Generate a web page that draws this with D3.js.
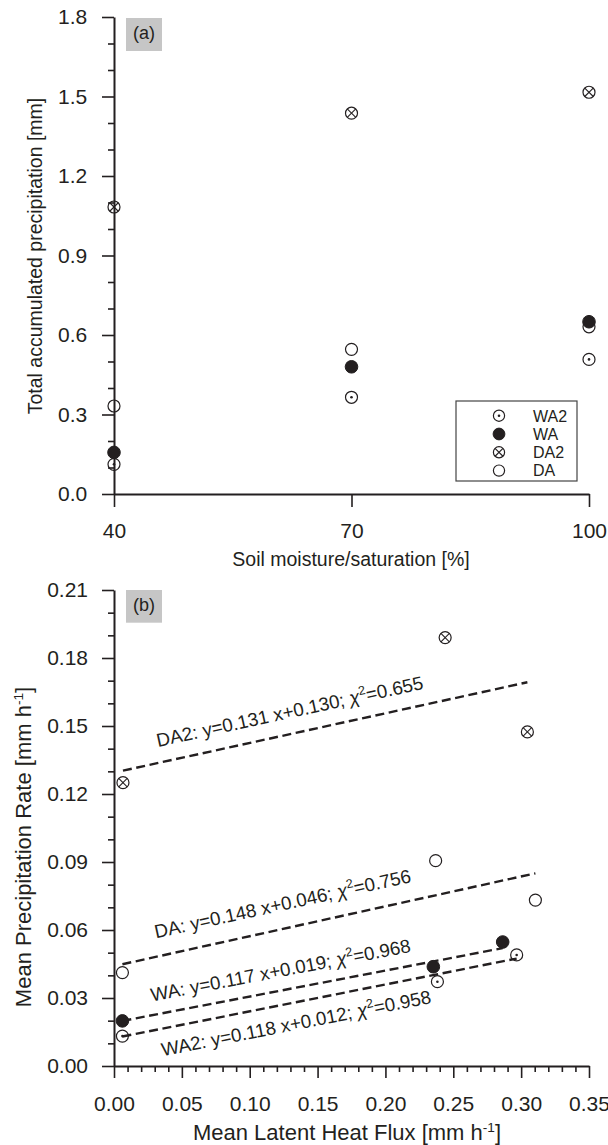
<!DOCTYPE html>
<html>
<head>
<meta charset="utf-8">
<script src="https://cdn.jsdelivr.net/npm/d3@7"></script>
<style>
    body { margin: 0; background: #fff; }
    svg text { font-family: "Liberation Sans", Arial, Helvetica, sans-serif; fill: #231f20; }
</style>
</head>
<body>
<div id="chart"></div>
<script>
// ---- panel (a): total accumulated precipitation vs soil moisture
var soilMoisture = [40, 70, 100];
var accWA2 = [0.112, 0.365, 0.508];
var accWA = [0.157, 0.480, 0.650];
var accDA2 = [1.083, 1.437, 1.516];
var accDA = [0.332, 0.546, 0.631];
var aXTicks = [40, 70, 100];
var aYTicks = [0.0, 0.3, 0.6, 0.9, 1.2, 1.5, 1.8];

// ---- panel (b): mean precipitation rate vs mean latent heat flux
var lhfDA2 = [0.0066, 0.244, 0.3046];
var rateDA2 = [0.125, 0.189, 0.1474];
var lhfDA = [0.0062, 0.237, 0.3105];
var rateDA = [0.0412, 0.0906, 0.0732];
var lhfWA = [0.0062, 0.2353, 0.2864];
var rateWA = [0.0199, 0.0438, 0.0547];
var lhfWA2 = [0.0062, 0.2383, 0.2967];
var rateWA2 = [0.0132, 0.0372, 0.0490];
var bXTicks = [0.00, 0.05, 0.10, 0.15, 0.20, 0.25, 0.30, 0.35];
var bYTicks = [0.00, 0.03, 0.06, 0.09, 0.12, 0.15, 0.18, 0.21];

// regression lines (ends) and their labels
var fitNames = ["DA2", "DA", "WA", "WA2"];
var fitStartX = [0.0066, 0.0062, 0.0062, 0.0062];
var fitStartY = [0.1303, 0.0449, 0.0199, 0.0130];
var fitEndX = [0.3046, 0.3105, 0.2864, 0.2967];
var fitEndY = [0.1693, 0.0850, 0.0520, 0.0474];
var fitEq = ["y=0.131 x+0.130", "y=0.148 x+0.046", "y=0.117 x+0.019", "y=0.118 x+0.012"];
var fitChi = ["0.655", "0.756", "0.968", "0.958"];

var legendNames = ["WA2", "WA", "DA2", "DA"];

var ink = "#231f20";

var svg = d3.select("#chart")
    .append("svg")
    .attr("width", 608)
    .attr("height", 1145);

// marker drawing: kind is one of WA2, WA, DA2, DA
function marker(g, kind, cx, cy, r) {
    var m = g.append("g").attr("transform", "translate(" + cx + "," + cy + ")");
    if (kind == "WA") {
        m.append("circle").attr("r", r + 0.3).attr("fill", ink).attr("stroke", ink).attr("stroke-width", 1);
        return;
    }
    m.append("circle").attr("r", r).attr("fill", "none").attr("stroke", ink).attr("stroke-width", 1.2);
    if (kind == "WA2") {
        m.append("circle").attr("r", 1.3).attr("fill", ink);
    }
    if (kind == "DA2") {
        var k = r * 0.707;
        m.append("line").attr("x1", -k).attr("y1", -k).attr("x2", k).attr("y2", k)
            .attr("stroke", ink).attr("stroke-width", 1.1);
        m.append("line").attr("x1", -k).attr("y1", k).attr("x2", k).attr("y2", -k)
            .attr("stroke", ink).attr("stroke-width", 1.1);
    }
}

function styleAxis(g, fontSize) {
    g.attr("font-size", fontSize)
        .attr("font-family", "'Liberation Sans', Arial, sans-serif")
        .attr("color", ink);
    g.select(".domain").attr("stroke-width", 2);
    g.selectAll(".tick line").attr("stroke-width", 1.6);
}

function minorTicks(lo, hi, step, majors) {
    return d3.range(lo, hi + step / 2, step).filter(function(v) {
        return !majors.some(function(m) { return Math.abs(m - v) < step / 10; });
    });
}

// superscript "-1" title
function unitTitle(t, main, fs) {
    t.append("tspan").text(main + " [mm h");
    t.append("tspan").attr("font-size", fs * 0.62).attr("dy", -fs * 0.38).text("-1");
    t.append("tspan").attr("dy", fs * 0.38).text("]");
}

function panelTag(x, y, w, h, label, baseline) {
    svg.append("rect").attr("x", x).attr("y", y).attr("width", w).attr("height", h)
        .attr("fill", "#c6c6c6");
    svg.append("text").attr("x", x + w / 2).attr("y", baseline)
        .attr("text-anchor", "middle").attr("font-size", 18).text(label);
}

// =================== panel (a)
var xa = d3.scaleLinear().domain([40, 100]).range([114, 589]);
var ya = d3.scaleLinear().domain([0, 1.8]).range([494, 17]);

var gaYminor = svg.append("g").attr("transform", "translate(114,0)")
    .call(d3.axisLeft(ya).tickValues(minorTicks(0, 1.8, 0.1, aYTicks)).tickSize(6).tickFormat(""));
gaYminor.select(".domain").remove();
styleAxis(gaYminor, 21);

var gaY = svg.append("g").attr("transform", "translate(114,0)")
    .call(d3.axisLeft(ya).tickValues(aYTicks).tickSize(12).tickSizeOuter(0).tickPadding(14.7)
        .tickFormat(d3.format(".1f")));
styleAxis(gaY, 21);

var gaX = svg.append("g").attr("transform", "translate(0,494)")
    .call(d3.axisBottom(xa).tickValues(aXTicks).tickSize(13).tickSizeOuter(0));
styleAxis(gaX, 21);
gaX.selectAll(".tick text").attr("y", 44).attr("dy", 0);

svg.append("text").attr("x", 351).attr("y", 566).attr("text-anchor", "middle")
    .attr("font-size", 19.5).text("Soil moisture/saturation [%]");
svg.append("text").attr("transform", "translate(42,256) rotate(-90)").attr("text-anchor", "middle")
    .attr("font-size", 19.5).text("Total accumulated precipitation [mm]");

panelTag(126, 18, 36, 33, "(a)", 39);

var gaPts = svg.append("g");
var aSeries = [["DA2", accDA2], ["DA", accDA], ["WA2", accWA2], ["WA", accWA]];
aSeries.forEach(function(s) {
    s[1].forEach(function(v, i) {
        marker(gaPts, s[0], xa(soilMoisture[i]), ya(v), 6);
    });
});

// legend
var leg = svg.append("g");
leg.append("rect").attr("x", 456).attr("y", 401).attr("width", 121).attr("height", 80)
    .attr("fill", "#fff").attr("stroke", "#444").attr("stroke-width", 1.2);
legendNames.forEach(function(n, i) {
    var yy = 415.7 + i * 18.3;
    marker(leg, n, 499, yy, 5.6);
    leg.append("text").attr("x", 533).attr("y", yy + 5.8).attr("font-size", 16).text(n);
});

// =================== panel (b)
var xb = d3.scaleLinear().domain([0, 0.35]).range([114, 589]);
var yb = d3.scaleLinear().domain([0, 0.21]).range([1066, 590]);

var gbYminor = svg.append("g").attr("transform", "translate(114,0)")
    .call(d3.axisLeft(yb).tickValues(minorTicks(0, 0.21, 0.01, bYTicks)).tickSize(6).tickFormat(""));
gbYminor.select(".domain").remove();
styleAxis(gbYminor, 21);

var gbY = svg.append("g").attr("transform", "translate(114,0)")
    .call(d3.axisLeft(yb).tickValues(bYTicks).tickSize(12).tickSizeOuter(0).tickPadding(14)
        .tickFormat(d3.format(".2f")));
styleAxis(gbY, 21);

var gbXminor = svg.append("g").attr("transform", "translate(0,1066)")
    .call(d3.axisBottom(xb).tickValues(minorTicks(0, 0.35, 0.01, bXTicks)).tickSize(6).tickFormat(""));
gbXminor.select(".domain").remove();
styleAxis(gbXminor, 21);

var gbX = svg.append("g").attr("transform", "translate(0,1066)")
    .call(d3.axisBottom(xb).tickValues(bXTicks).tickSize(12).tickSizeOuter(0)
        .tickFormat(d3.format(".2f")));
styleAxis(gbX, 21);
gbX.selectAll(".tick text").attr("y", 44.7).attr("dy", 0);

unitTitle(svg.append("text").attr("x", 347).attr("y", 1140).attr("text-anchor", "middle")
    .attr("font-size", 22), "Mean Latent Heat Flux", 22);
unitTitle(svg.append("text").attr("transform", "translate(31,847) rotate(-90)").attr("text-anchor", "middle")
    .attr("font-size", 22), "Mean Precipitation Rate", 22);

panelTag(126, 590, 36, 32.7, "(b)", 611.3);

// fit lines
var labelLayout = {
    DA2: { x0: 158, dy: -16 },
    DA: { x0: 156, dy: -18.5 },
    WA: { x0: 152, dy: -13.7 },
    WA2: { x0: 162.7, dy: 27.7 }
};
var gFit = svg.append("g");
fitNames.forEach(function(n, i) {
    var px0 = xb(fitStartX[i]), py0 = yb(fitStartY[i]);
    var px1 = xb(fitEndX[i]), py1 = yb(fitEndY[i]);
    gFit.append("line")
        .attr("x1", px0).attr("y1", py0).attr("x2", px1).attr("y2", py1)
        .attr("stroke", ink).attr("stroke-width", 2.4).attr("stroke-dasharray", "9,4.6");

    var ang = Math.atan2(py1 - py0, px1 - px0) * 180 / Math.PI;
    var lay = labelLayout[n];
    var ly = py0 + (lay.x0 - px0) * (py1 - py0) / (px1 - px0) + lay.dy;
    var t = gFit.append("text")
        .attr("x", lay.x0).attr("y", ly)
        .attr("transform", "rotate(" + ang + "," + lay.x0 + "," + ly + ")")
        .attr("font-size", 18.8);
    t.append("tspan").text(n + ": " + fitEq[i] + "; ");
    t.append("tspan").attr("font-style", "italic").text("\u03c7");
    t.append("tspan").attr("font-size", 12.5).attr("dy", -7.5).text("2");
    t.append("tspan").attr("dy", 7.5).text("=" + fitChi[i]);
});

// points
var gbPts = svg.append("g");
var bSeries = [["DA2", lhfDA2, rateDA2], ["DA", lhfDA, rateDA], ["WA2", lhfWA2, rateWA2], ["WA", lhfWA, rateWA]];
bSeries.forEach(function(s) {
    s[1].forEach(function(xv, i) {
        marker(gbPts, s[0], xb(xv), yb(s[2][i]), 6);
    });
});
</script>
</body>
</html>
